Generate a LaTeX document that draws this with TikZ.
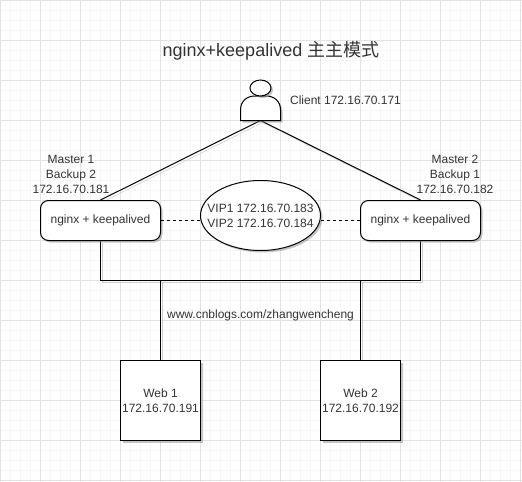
\documentclass[tikz,border=0pt]{standalone}
\usepackage{fontspec}
\setmainfont{Liberation Sans}
\newfontfamily\cjkfont{Noto Sans CJK SC}
\usetikzlibrary{positioning,calc,shadows,shapes.geometric,backgrounds}
\definecolor{gridminor}{HTML}{F7F7F7}
\definecolor{gridmajor}{HTML}{E2E2E2}
\definecolor{labelgray}{HTML}{333333}
\tikzset{
    softshadow/.style={drop shadow={shadow xshift=1.5pt,shadow yshift=-1.5pt,fill=black!45,opacity=0.5}},
    wire/.style={draw=black,line width=0.75pt,preaction={draw=black!20,transform canvas={xshift=1.5pt,yshift=-1.5pt}}},
    dashwire/.style={draw=black,line width=0.75pt,dash pattern=on 2.25pt off 2.25pt},
    nginxbox/.style={draw=black,fill=white,rounded corners=6pt,line width=0.75pt,minimum width=90pt,minimum height=30pt,inner sep=0pt,softshadow,text=labelgray,font=\fontsize{9}{11}\selectfont},
    vipnode/.style={ellipse,draw=black,fill=white,line width=0.75pt,minimum width=90pt,minimum height=52.5pt,inner xsep=-16pt,inner ysep=0pt,softshadow,text=labelgray,align=center,font=\fontsize{9}{11.2}\selectfont},
    webbox/.style={draw=black,fill=white,line width=0.75pt,minimum width=60pt,minimum height=60pt,inner sep=0pt,softshadow,text=labelgray,align=center,font=\fontsize{9}{11.2}\selectfont},
    caption/.style={text=labelgray,align=center,inner sep=0pt,font=\fontsize{9}{11.2}\selectfont},
}
\begin{document}
\begin{tikzpicture}[x=0.75pt,y=-0.75pt]
\useasboundingbox (0,0) rectangle (522,482);
% title and labels
\node (title) at (271,51) [text=labelgray,inner sep=0pt,font=\fontsize{13.5}{15}\selectfont] {nginx+keepalived {\cjkfont 主主模式}};
\node (clientlabel) at (345.5,100) [caption] {Client 172.16.70.171};
\node (master1) at (71,174.5) [caption] {Master 1\\Backup 2\\172.16.70.181};
\node (master2) at (455,174.5) [caption] {Master 2\\Backup 1\\172.16.70.182};
\node (blog) at (260.5,315) [caption] {www.cnblogs.com/zhangwencheng};
% nodes
\node (nginx1) at (100.5,220.5) [nginxbox] {nginx + keepalived};
\node (nginx2) at (420.5,220.5) [nginxbox] {nginx + keepalived};
\node (vip) at (260.5,215.5) [vipnode] {VIP1 172.16.70.183\\VIP2 172.16.70.184};
\node (web1) at (160.5,400.5) [webbox] {Web 1\\172.16.70.191};
\node (web2) at (360.5,400.5) [webbox] {Web 2\\172.16.70.192};
% connector ends
\coordinate (clientbase) at (260.5,120.5);
\coordinate (busl) at (100.5,280.5);
\coordinate (busr) at (420.5,280.5);
\coordinate (drop1) at (160.5,280.5);
\coordinate (drop2) at (360.5,280.5);
\begin{scope}[on background layer]
\fill[white] (0,0) rectangle (522,482);
% grid
\foreach \i in {0,...,52} {
    \draw[gridminor,line width=0.75pt] ({\i*10+0.5},0) -- ({\i*10+0.5},482);
}
\foreach \i in {0,...,48} {
    \draw[gridminor,line width=0.75pt] (0,{\i*10+0.5}) -- (522,{\i*10+0.5});
}
\foreach \i in {0,...,13} {
    \draw[gridmajor,line width=0.75pt] ({\i*40+0.5},0) -- ({\i*40+0.5},482);
}
\foreach \i in {0,...,12} {
    \draw[gridmajor,line width=0.75pt] (0,{\i*40+0.5}) -- (522,{\i*40+0.5});
}
% connectors
\draw[wire] (clientbase) -- (nginx1.north);
\draw[wire] (clientbase) -- (nginx2.north);
\draw[wire] (nginx1.south) -- (busl) -- (busr) -- (nginx2.south);
\draw[wire] (drop1) -- (web1.north);
\draw[wire] (drop2) -- (web2.north);
\end{scope}
\draw[dashwire] (nginx1.east) -- (vip.west |- nginx1.east);
\draw[dashwire] (vip.east |- nginx2.west) -- (nginx2.west);
% client icon
\draw[draw=black,fill=white,line width=0.75pt,softshadow] (240.5,120.5) -- (240.5,110) .. controls (240.5,101) and (247,96) .. (255,96) -- (266,96) .. controls (274,96) and (280.5,101) .. (280.5,110) -- (280.5,120.5) -- cycle;
\draw[draw=black,fill=white,line width=0.75pt,softshadow] (260.5,88) ellipse (10.5 and 8);
\end{tikzpicture}
\end{document}
